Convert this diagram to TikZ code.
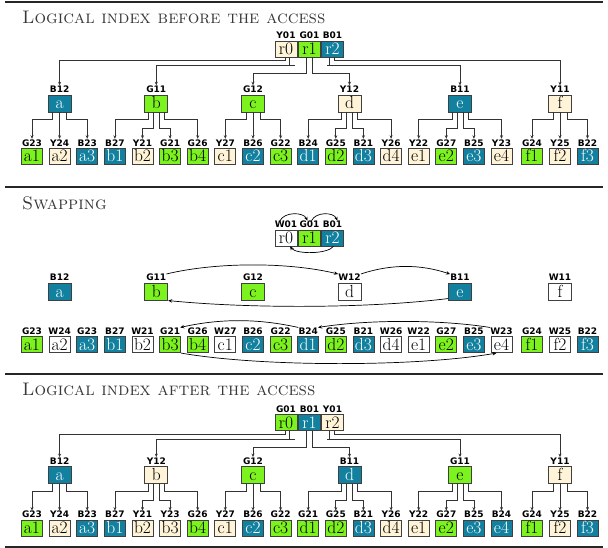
\documentclass[tikz,border=0pt]{standalone}
\usepackage{fontspec}
\newfontfamily\labfont{DejaVu Sans}
\usetikzlibrary{arrows.meta}
\definecolor{cgreen}{HTML}{7CF21E}
\definecolor{ccream}{HTML}{FFF4D8}
\definecolor{cblue}{HTML}{12809F}
\definecolor{cline}{HTML}{333333}
\newcommand\os[1]{\oldstylenums{#1}}
\tikzset{
 box/.style={draw=black!75, line width=0.7pt, inner sep=0pt, text height=11pt, text depth=0pt, font=\fontsize{17.5}{17.5}\selectfont},
 leafsz/.style={minimum width=21pt, minimum height=16pt},
 midsz/.style={minimum width=23pt, minimum height=17pt},
 rootsz/.style={minimum width=22pt, minimum height=16pt},
 gr/.style={fill=cgreen}, ye/.style={fill=ccream}, bl/.style={fill=cblue,text=white}, wh/.style={fill=white},
 lab/.style={anchor=base, inner sep=0pt, font=\labfont\bfseries\fontsize{9}{9}\selectfont},
 conn/.style={draw=cline, line width=0.7pt, -{Stealth[length=3.5pt,width=3pt]}, shorten >=0.5pt},
 plain/.style={draw=cline, line width=0.7pt},
 swap/.style={draw=black, line width=0.7pt, -{Stealth[length=4pt,width=3.5pt]}},
 title/.style={anchor=base west, inner sep=0pt, text=black!78, font=\fontsize{18.2}{18.2}\selectfont\scshape},
 rule/.style={line width=2pt, draw=black!85}
}
\newcommand\bx[7]{\node[box,#1,#5] (#2) at (#3,#4) {#6}; \node[lab] (#2l) at ([yshift=2pt]#2.north) {#7};}
\newcommand\three[2]{%
 \draw[conn] ([xshift=-7pt]#1#2.south) -- ++(0,7.5) -| (#1#21l.north);
 \draw[conn] (#1#2.south) -- (#1#22l.north);
 \draw[conn] ([xshift=7pt]#1#2.south) -- ++(0,7.5) -| (#1#23l.north);}
\newcommand\four[2]{%
 \draw[conn] ([xshift=-8pt]#1#2.south) -- ++(0,7.5) -| (#1#21l.north);
 \draw[conn] ([xshift=-3pt]#1#2.south) -- ++(0,16) -| (#1#22l.north);
 \draw[conn] ([xshift=3pt]#1#2.south) -- ++(0,16) -| (#1#23l.north);
 \draw[conn] ([xshift=8pt]#1#2.south) -- ++(0,7.5) -| (#1#24l.north);}
\newcommand\treeconn[1]{%
 \draw[conn] ([xshift=-1pt]#1r0.south) -- ++(0,3) -| (#1al.north);
 \draw[conn] ([xshift=3.5pt]#1r0.south) -- ++(0,8) coordinate (#1s0) -| (#1bl.north);
 \draw[plain] (#1s0) -- ++(5.5,0);
 \draw[conn] ([xshift=-3pt]#1r1.south) -- ++(0,16.5) -| (#1cl.north);
 \draw[conn] ([xshift=2.5pt]#1r1.south) -- ++(0,16.5) -| (#1dl.north);
 \draw[conn] ([xshift=-3pt]#1r2.south) -- ++(0,8) coordinate (#1s2) -| (#1el.north);
 \draw[plain] (#1s2) -- ++(-3,0);
 \draw[conn] ([xshift=1.5pt]#1r2.south) -- ++(0,3) -| (#1fl.north);
 \three{#1}{a}\four{#1}{b}\three{#1}{c}\four{#1}{d}\four{#1}{e}\three{#1}{f}}
\begin{document}
\begin{tikzpicture}[x=1pt,y=-1pt]
\useasboundingbox (0,0) rectangle (608,548);
\draw[rule] (5,2) -- (603,2);
\draw[rule] (5,187) -- (603,187);
\draw[rule] (5,374) -- (603,374);
\draw[rule] (5,547) -- (603,547);
\node[title] (t1) at (22,24) {Logical index before the access};
\node[title] (t2) at (22,210) {Swapping};
\node[title] (t3) at (22,395) {Logical index after the access};
% ---------- section 1
\foreach \D/\x/\cl/\lb in {0/286/ye/Y01,1/309.5/gr/G01,2/332.5/bl/B01}
 {\bx{rootsz}{Ar\D}{\x}{49}{\cl}{r\os{\D}}{\lb}}
\foreach \L/\x/\cl/\lb in {a/59.6/bl/B12,b/156.3/gr/G11,c/253/gr/G12,d/349.5/ye/Y12,e/460/bl/B11,f/560/ye/Y11}
 {\bx{midsz}{A\L}{\x}{103.5}{\cl}{\L}{\lb}}
\foreach \L/\D/\x/\cl/\lb in {a/1/32/gr/G23,a/2/59.6/ye/Y24,a/3/87.2/bl/B23,b/1/114.9/bl/B27,b/2/142.5/ye/Y21,b/3/170.1/gr/G21,b/4/197.7/gr/G26,c/1/225.3/ye/Y27,c/2/253/bl/B26,c/3/280.6/gr/G22,d/1/308.2/bl/B24,d/2/335.8/gr/G25,d/3/363.4/bl/B21,d/4/391.1/ye/Y26,e/1/418.7/ye/Y22,e/2/446.3/gr/G27,e/3/473.9/bl/B25,e/4/501.5/ye/Y23,f/1/532/gr/G24,f/2/560/ye/Y25,f/3/587.5/bl/B22}
 {\bx{leafsz}{A\L\D}{\x}{156.5}{\cl}{\L\os{\D}}{\lb}}
\treeconn{A}
% ---------- section 2
\foreach \D/\x/\cl/\lb in {0/286/wh/W01,1/309.5/gr/G01,2/332.5/bl/B01}
 {\bx{rootsz}{Br\D}{\x}{238}{\cl}{r\os{\D}}{\lb}}
\foreach \L/\x/\cl/\lb in {a/59.6/bl/B12,b/156.3/gr/G11,c/253/gr/G12,d/349.5/wh/W12,e/460/bl/B11,f/560/wh/W11}
 {\bx{midsz}{B\L}{\x}{291.7}{\cl}{\L}{\lb}}
\foreach \L/\D/\x/\cl/\lb in {a/1/32/gr/G23,a/2/59.6/wh/W24,a/3/87.2/bl/G23,b/1/114.9/bl/B27,b/2/142.5/wh/W21,b/3/170.1/gr/G21,b/4/197.7/gr/G26,c/1/225.3/wh/W27,c/2/253/bl/B26,c/3/280.6/gr/G22,d/1/308.2/bl/B24,d/2/335.8/gr/G25,d/3/363.4/bl/B21,d/4/391.1/wh/W26,e/1/418.7/wh/W22,e/2/446.3/gr/G27,e/3/473.9/bl/B25,e/4/501.5/wh/W23,f/1/532/gr/G24,f/2/560/wh/W25,f/3/587.5/bl/B22}
 {\bx{leafsz}{B\L\D}{\x}{344.7}{\cl}{\L\os{\D}}{\lb}}
\draw[swap] ([xshift=-6pt]Br0l.north) .. controls +(4,-9) and +(-4,-9) .. ([xshift=-2pt]Br1l.north);
\draw[swap] ([xshift=2pt]Br1l.north) .. controls +(4,-9) and +(-4,-9) .. ([xshift=5pt]Br2l.north);
\draw[swap] ([xshift=1pt]Br2.south) .. controls +(-6,8) and +(6,8) .. ([xshift=4pt]Br0.south);
\draw[swap] (Bbl.north east) .. controls +(50,-12) and +(-50,-12) .. (Bdl.north west);
\draw[swap] (Bdl.north east) .. controls +(30,-10) and +(-30,-10) .. (Bel.north west);
\draw[swap] ([yshift=2pt]Be.south west) .. controls +(-80,10) and +(80,8) .. (Bb.south east);
\draw[swap] (Bd1l.north west) .. controls +(-40,-9) and +(40,-9) .. (Bb3l.north east);
\draw[swap] (Be4l.north west) .. controls +(-50,-8) and +(50,-8) .. (Bd1l.north east);
\draw[swap] (Bb3.south east) .. controls +(80,14) and +(-80,14) .. ([xshift=-5pt]Be4.south);
% ---------- section 3
\foreach \D/\x/\cl/\lb in {0/286/gr/G01,1/309.5/bl/B01,2/332.5/ye/Y01}
 {\bx{rootsz}{Cr\D}{\x}{422.5}{\cl}{r\os{\D}}{\lb}}
\foreach \L/\x/\cl/\lb in {a/59.6/bl/B12,b/156.3/ye/Y12,c/253/gr/G12,d/349.5/bl/B11,e/460/gr/G11,f/560/ye/Y11}
 {\bx{midsz}{C\L}{\x}{475.3}{\cl}{\L}{\lb}}
\foreach \L/\D/\x/\cl/\lb in {a/1/32/gr/G23,a/2/59.6/ye/Y24,a/3/87.2/bl/B23,b/1/114.9/bl/B27,b/2/142.5/ye/Y21,b/3/170.1/ye/Y23,b/4/197.7/gr/G26,c/1/225.3/ye/Y27,c/2/253/bl/B26,c/3/280.6/gr/G22,d/1/308.2/gr/G21,d/2/335.8/gr/G25,d/3/363.4/bl/B21,d/4/391.1/ye/Y26,e/1/418.7/ye/Y22,e/2/446.3/gr/G27,e/3/473.9/bl/B25,e/4/501.5/bl/B24,f/1/532/gr/G24,f/2/560/ye/Y25,f/3/587.5/bl/B22}
 {\bx{leafsz}{C\L\D}{\x}{528.3}{\cl}{\L\os{\D}}{\lb}}
\treeconn{C}
\end{tikzpicture}
\end{document}
